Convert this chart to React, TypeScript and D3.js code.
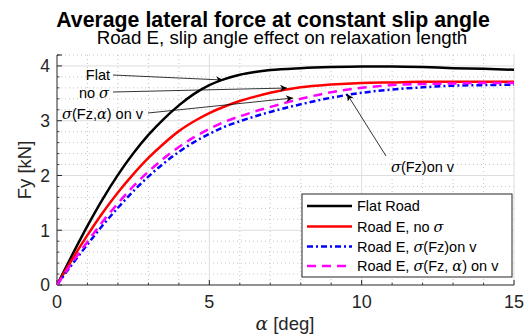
import React from "react";
import * as d3 from "d3";

const alphaDeg = [0, 0.5, 1, 1.5, 2, 2.5, 3, 3.5, 4, 4.5, 5, 5.5, 6, 6.5, 7, 8, 9, 10, 11, 12, 13, 14, 15];
const flatRoad = [0, 0.55, 1.08, 1.57, 2.01, 2.4, 2.74, 3.03, 3.28, 3.49, 3.65, 3.76, 3.84, 3.89, 3.925, 3.96, 3.98, 3.99, 3.99, 3.98, 3.96, 3.95, 3.93];
const roadNoSigma = [0, 0.47, 0.91, 1.32, 1.69, 2.02, 2.32, 2.58, 2.81, 2.99, 3.14, 3.26, 3.36, 3.44, 3.51, 3.61, 3.66, 3.69, 3.7, 3.71, 3.71, 3.71, 3.71];
const roadSigmaFz = [0, 0.38, 0.74, 1.09, 1.41, 1.71, 1.98, 2.22, 2.43, 2.61, 2.76, 2.89, 2.99, 3.08, 3.16, 3.3, 3.42, 3.51, 3.57, 3.61, 3.64, 3.65, 3.66];
const roadSigmaFzAlpha = [0, 0.41, 0.79, 1.16, 1.49, 1.8, 2.07, 2.31, 2.52, 2.7, 2.85, 2.98, 3.08, 3.17, 3.25, 3.4, 3.52, 3.6, 3.65, 3.67, 3.68, 3.69, 3.69];

const xTicks = [0, 5, 10, 15];
const yTicks = [0, 1, 2, 3, 4];

const FONT = "'Liberation Sans', Arial, Helvetica, sans-serif";
const W = 526, H = 335;
const L = 57, R = 514, T = 55, B = 285;

const x = d3.scaleLinear().domain([0, 15]).range([L, R]);
const y = d3.scaleLinear().domain([0, 4.2]).range([B, T]);

type Series = { name: React.ReactNode; values: number[]; color: string; dash?: string; width: number };

const Sig = () => <tspan fontStyle="italic" fontFamily="'DejaVu Serif', serif">σ</tspan>;
const Alp = () => <tspan fontStyle="italic" fontFamily="'DejaVu Serif', serif">α</tspan>;

const series: Series[] = [
  { name: <>Flat Road</>, values: flatRoad, color: "#000000", width: 2.5 },
  { name: <>Road E, no <Sig /></>, values: roadNoSigma, color: "#ff0000", width: 2.5 },
  { name: <>Road E, <Sig />(Fz)on v</>, values: roadSigmaFz, color: "#0000ff", dash: "6,3,2,3", width: 2.5 },
  { name: <>Road E, <Sig />(Fz, <Alp />) on v</>, values: roadSigmaFzAlpha, color: "#ff00ff", dash: "9,6", width: 2.5 },
];

export default function App() {
  const line = d3
    .line<number>()
    .x((_, i) => x(alphaDeg[i]))
    .y((v) => y(v))
    .curve(d3.curveMonotoneX);

  const minorX = d3.range(0, 16, 1).filter((v) => v % 5 !== 0);
  const minorY = d3.range(0, 21.5, 1).map((v) => v * 0.2).filter((v) => Math.abs(v - Math.round(v)) > 1e-6);

  const ann = [
    { text: <>Flat</>, tx: 110, ty: 80, anchor: "end", x1: 113, y1: 75, x2: 223, y2: 80 },
    { text: <>no <Sig /></>, tx: 109, ty: 98, anchor: "end", x1: 113, y1: 92, x2: 287, y2: 88 },
    { text: <><Sig />(Fz,<Alp />) on v</>, tx: 143, ty: 119, anchor: "end", x1: 148, y1: 113, x2: 293, y2: 98 },
    { text: <><Sig />(Fz)on v</>, tx: 391, ty: 172, anchor: "start", x1: 386, y1: 156, x2: 347, y2: 94 },
  ];

  const legX = 302, legY = 194, legW = 210, legH = 83;
  const rowY = [206, 226.5, 246.5, 266];

  return (
    <svg width={W} height={H} style={{ position: "absolute", left: 0, top: 0, background: "#fff" }} fontFamily={FONT}>
      <defs>
        <marker id="ah" viewBox="0 0 10 10" refX="10" refY="5" markerWidth="9" markerHeight="7" orient="auto" markerUnits="userSpaceOnUse">
          <path d="M0,0 L10,5 L0,10 L3,5 z" fill="#000" />
        </marker>
        <clipPath id="plot">
          <rect x={L} y={T - 2} width={R - L} height={B - T + 2} />
        </clipPath>
      </defs>
      <rect x={0} y={0} width={W} height={H} fill="#fff" />
      {/* minor grid */}
      {minorX.map((v) => (
        <line key={"mx" + v} x1={x(v)} x2={x(v)} y1={T} y2={B} stroke="#b8b8b8" strokeWidth={0.8} strokeDasharray="1,3" />
      ))}
      {minorY.map((v) => (
        <line key={"my" + v} x1={L} x2={R} y1={y(v)} y2={y(v)} stroke="#b8b8b8" strokeWidth={0.8} strokeDasharray="1,3" />
      ))}
      {/* major grid */}
      {xTicks.slice(1).map((v) => (
        <line key={"gx" + v} x1={x(v)} x2={x(v)} y1={T} y2={B} stroke="#dedede" strokeWidth={1} />
      ))}
      {yTicks.slice(1).map((v) => (
        <line key={"gy" + v} x1={L} x2={R} y1={y(v)} y2={y(v)} stroke="#dedede" strokeWidth={1} />
      ))}
      {/* axes */}
      <line x1={L} x2={L} y1={T} y2={B} stroke="#262626" strokeWidth={1} />
      <line x1={L} x2={R} y1={B} y2={B} stroke="#262626" strokeWidth={1} />
      {xTicks.map((v) => (
        <g key={"xt" + v}>
          <line x1={x(v)} x2={x(v)} y1={B} y2={B - 5} stroke="#262626" />
          <text x={x(v)} y={308} fontSize={18} textAnchor="middle" fill="#262626">{v}</text>
        </g>
      ))}
      {yTicks.map((v) => (
        <g key={"yt" + v}>
          <line x1={L} x2={L + 5} y1={y(v)} y2={y(v)} stroke="#262626" />
          <text x={50} y={y(v) + 6.3} fontSize={17.5} textAnchor="end" fill="#262626">{v}</text>
        </g>
      ))}
      {minorY.map((v) => (
        <line key={"mty" + v} x1={L} x2={L + 2.5} y1={y(v)} y2={y(v)} stroke="#262626" strokeWidth={0.8} />
      ))}
      {minorX.map((v) => (
        <line key={"mtx" + v} x1={x(v)} x2={x(v)} y1={B} y2={B - 2.5} stroke="#262626" strokeWidth={0.8} />
      ))}
      <line x1={L} x2={L + 5} y1={T} y2={T} stroke="#262626" />
      {/* curves */}
      <g clipPath="url(#plot)">
        {series.map((s, i) => (
          <path key={i} d={line(s.values) || ""} fill="none" stroke={s.color} strokeWidth={s.width} strokeDasharray={s.dash} />
        ))}
      </g>
      {/* annotations */}
      {ann.map((a, i) => (
        <g key={"an" + i}>
          <line x1={a.x1} y1={a.y1} x2={a.x2} y2={a.y2} stroke="#000" strokeWidth={0.8} markerEnd="url(#ah)" />
          <text x={a.tx} y={a.ty} fontSize={14.5} textAnchor={a.anchor as any} fill="#000">{a.text}</text>
        </g>
      ))}
      {/* legend */}
      <rect x={legX} y={legY} width={legW} height={legH} fill="#fff" stroke="#262626" strokeWidth={1} />
      {series.map((s, i) => (
        <g key={"lg" + i}>
          <line x1={307} x2={352} y1={rowY[i]} y2={rowY[i]} stroke={s.color} strokeWidth={s.width} strokeDasharray={s.dash} />
          <text x={357} y={rowY[i] + 5} fontSize={14.5} fill="#000">{s.name}</text>
        </g>
      ))}
      {/* titles */}
      <text x={273} y={27} fontSize={21.3} fontWeight="bold" textAnchor="middle" fill="#000">Average lateral force at constant slip angle</text>
      <text x={282} y={43.5} fontSize={18.7} textAnchor="middle" fill="#000">Road E, slip angle effect on relaxation length</text>
      <text x={285} y={330} fontSize={18.5} textAnchor="middle" fill="#262626"><Alp /> [deg]</text>
      <text transform={`translate(31,${(T + B) / 2}) rotate(-90)`} fontSize={18.5} textAnchor="middle" fill="#262626">Fy [kN]</text>
    </svg>
  );
}
